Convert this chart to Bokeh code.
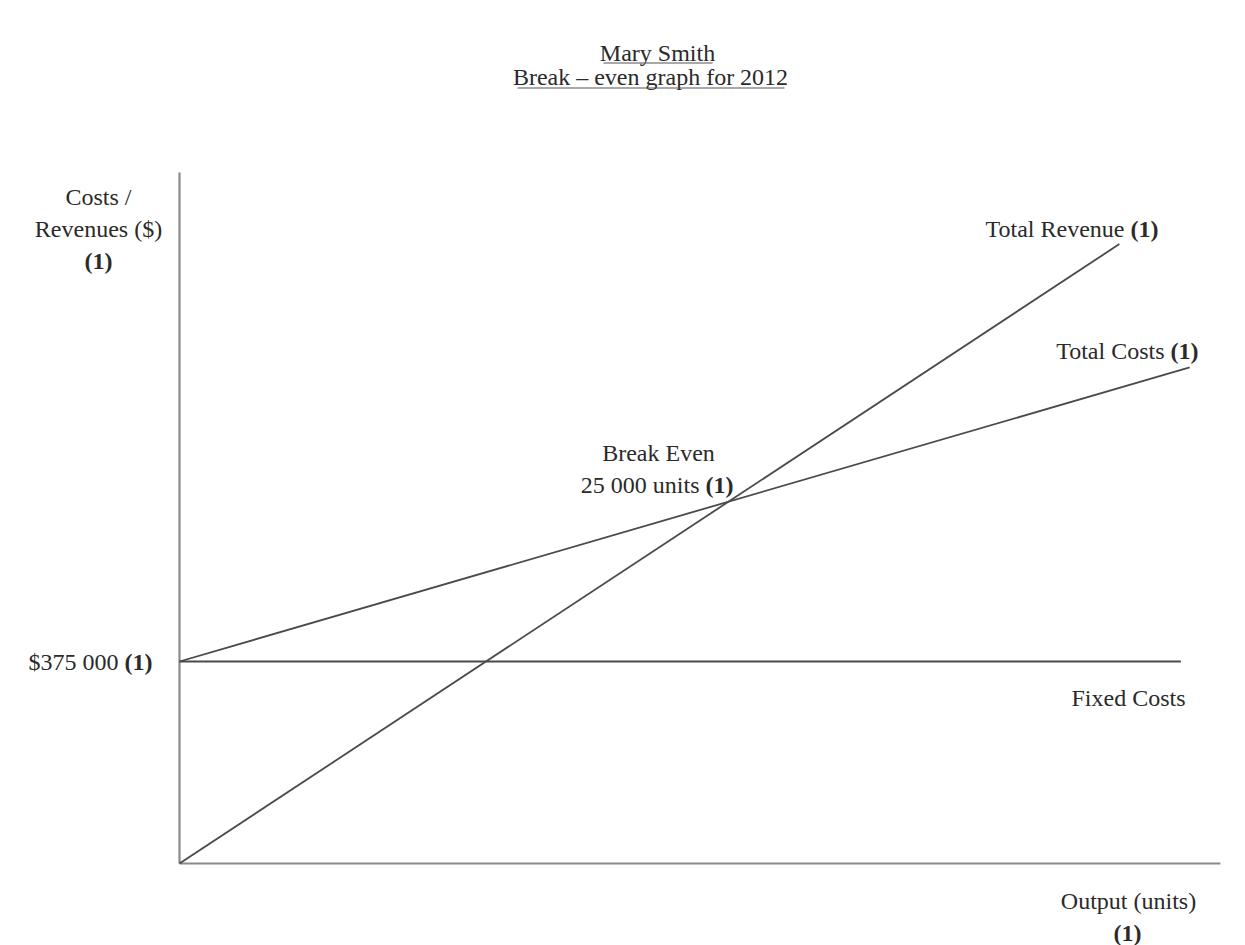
from bokeh.plotting import figure
from bokeh.models import Range1d, Label, BoxAnnotation
from bokeh.embed import file_html
from bokeh.resources import INLINE

# ---- data ----
fixed_costs = 375000
break_even_units = 25000
output_units_fc = [0, 45600]
fixed_cost_values = [375000, 375000]
output_units_tr = [0, 42800]
total_revenue_values = [0, 1150000]
output_units_tc = [0, 46000]
total_cost_values = [375000, 921000]
axis_x_extent = [0, 47400]
axis_y_extent = [0, 1282700]

# ---- layout: picture-pixel -> data mapping ----
W, H = 1245, 945
PX0, PY0 = 179, 863                     # picture pixel of the origin
X_PER_PX = break_even_units / 549.0
Y_PER_PX = fixed_costs / 202.0


def dx(px):
    return (px - PX0) * X_PER_PX


def dy(py):
    return (PY0 - py) * Y_PER_PX


p = figure(width=W, height=H, output_backend="svg", toolbar_location=None,
           x_range=Range1d(dx(0), dx(W)), y_range=Range1d(dy(H), dy(0)),
           x_axis_location=None, y_axis_location=None, min_border=0)
p.grid.visible = False
p.outline_line_color = None
p.background_fill_color = "white"

AX = "#8a8a8a"
LN = "#4a4a4a"
# axes drawn as lines
p.line(x=[0, 0], y=axis_y_extent, line_color=AX, line_width=2.2)
p.line(x=axis_x_extent, y=[0, 0], line_color=AX, line_width=2.2)

# cost / revenue lines
p.line(x=output_units_fc, y=fixed_cost_values, line_color=LN, line_width=1.8)
p.line(x=output_units_tr, y=total_revenue_values, line_color=LN, line_width=1.8)
p.line(x=output_units_tc, y=total_cost_values, line_color=LN, line_width=1.8)

FONT = "Liberation Serif"
FS = "24px"
TC = "#2a2a2a"


def lab(text, px, py, align="center", bold=False, size=FS):
    p.add_layout(Label(x=dx(px), y=dy(py), text=text, text_align=align,
                       text_baseline="middle", text_font=FONT, text_font_size=size,
                       text_color=TC, text_font_style="bold" if bold else "normal"))


# title
lab("Mary Smith", 657, 52)
lab("Break \u2013 even graph for 2012", 650, 76)
p.add_layout(BoxAnnotation(left=dx(603), right=dx(712), top=dy(62), bottom=dy(63),
                           fill_color="#555555", fill_alpha=1, line_alpha=0))
p.add_layout(BoxAnnotation(left=dx(517), right=dx(784), top=dy(87), bottom=dy(88),
                           fill_color="#555555", fill_alpha=1, line_alpha=0))

# y-axis label
lab("Costs /", 98, 196)
lab("Revenues ($)", 98, 228)
lab("(1)", 98, 260, bold=True)

# line labels
lab("Total Revenue", 1124, 228, align="right")
lab("(1)", 1130, 228, align="left", bold=True)
lab("Total Costs", 1164, 350, align="right")
lab("(1)", 1170, 350, align="left", bold=True)
lab("Break Even", 658, 452)
lab("25 000 units", 699, 484, align="right")
lab("(1)", 705, 484, align="left", bold=True)
lab("$375 000", 118, 661, align="right")
lab("(1)", 124, 661, align="left", bold=True)
lab("Fixed Costs", 1185, 697, align="right")

# x-axis label
lab("Output (units)", 1128, 900)
lab("(1)", 1127, 932, bold=True)

open("out.html", "w").write(file_html(p, INLINE))
